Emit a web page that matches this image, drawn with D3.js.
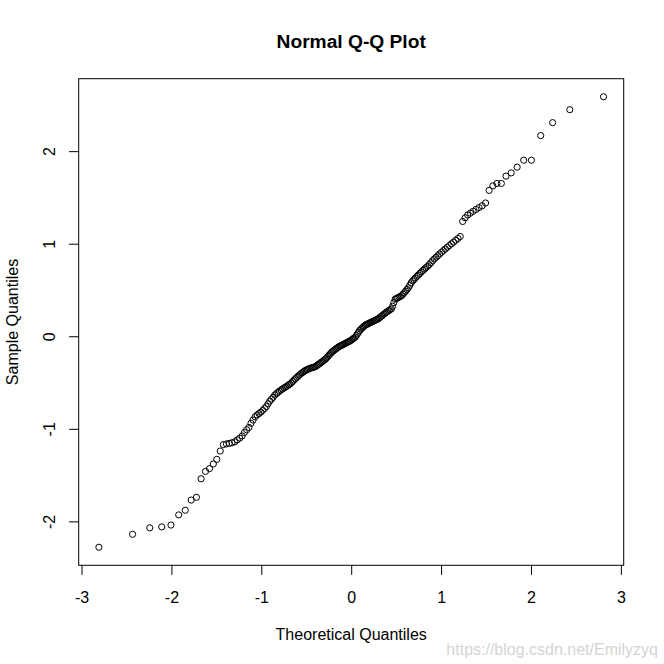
<!DOCTYPE html>
<html>
<head>
<meta charset="utf-8">
<script src="https://cdn.jsdelivr.net/npm/d3@7"></script>
<style>
  html, body { margin: 0; padding: 0; background: #ffffff; }
  svg { display: block; }
  text { font-family: "Liberation Sans", Arial, sans-serif; fill: #000; }
</style>
</head>
<body>
<script>
// ---------------- data ----------------
const chartTitle = "Normal Q-Q Plot";
const xAxisTitle = "Theoretical Quantiles";
const yAxisTitle = "Sample Quantiles";
const watermark = "https://blog.csdn.net/Emilyzyq";

const xTickValues = [-3, -2, -1, 0, 1, 2, 3];
const yTickValues = [-2, -1, 0, 1, 2];

// theoretical normal quantiles (n = 200)
const theoreticalQuantiles = [
  -2.807,-2.432,-2.241,-2.108,-2.005,-1.919,-1.846,-1.780,-1.722,-1.670,
  -1.621,-1.576,-1.534,-1.495,-1.457,-1.422,-1.388,-1.356,-1.326,-1.296,
  -1.268,-1.240,-1.213,-1.188,-1.163,-1.138,-1.115,-1.092,-1.069,-1.047,
  -1.026,-1.005,-0.984,-0.964,-0.944,-0.925,-0.906,-0.887,-0.868,-0.850,
  -0.832,-0.815,-0.798,-0.780,-0.764,-0.747,-0.731,-0.714,-0.698,-0.683,
  -0.667,-0.651,-0.636,-0.621,-0.606,-0.590,-0.576,-0.561,-0.546,-0.532,
  -0.517,-0.503,-0.489,-0.475,-0.461,-0.447,-0.433,-0.419,-0.405,-0.392,
  -0.378,-0.365,-0.351,-0.338,-0.325,-0.311,-0.298,-0.285,-0.272,-0.259,
  -0.246,-0.233,-0.220,-0.208,-0.195,-0.182,-0.169,-0.157,-0.144,-0.132,
  -0.119,-0.107,-0.094,-0.082,-0.069,-0.056,-0.044,-0.031,-0.019,-0.006,
   0.006, 0.019, 0.031, 0.044, 0.056, 0.069, 0.082, 0.094, 0.107, 0.119,
   0.132, 0.144, 0.157, 0.169, 0.182, 0.195, 0.208, 0.220, 0.233, 0.246,
   0.259, 0.272, 0.285, 0.298, 0.311, 0.325, 0.338, 0.351, 0.365, 0.378,
   0.392, 0.405, 0.419, 0.433, 0.447, 0.461, 0.475, 0.489, 0.503, 0.517,
   0.532, 0.546, 0.561, 0.576, 0.590, 0.606, 0.621, 0.636, 0.651, 0.667,
   0.683, 0.698, 0.714, 0.731, 0.747, 0.764, 0.780, 0.798, 0.815, 0.832,
   0.850, 0.868, 0.887, 0.906, 0.925, 0.944, 0.964, 0.984, 1.005, 1.026,
   1.047, 1.069, 1.092, 1.115, 1.138, 1.163, 1.188, 1.213, 1.240, 1.268,
   1.296, 1.326, 1.356, 1.388, 1.422, 1.457, 1.495, 1.534, 1.576, 1.621,
   1.670, 1.722, 1.780, 1.846, 1.919, 2.005, 2.108, 2.241, 2.432, 2.807
];

// sorted sample values
const sampleQuantiles = [
  -2.28,-2.14,-2.07,-2.06,-2.04,-1.93,-1.88,-1.77,-1.74,-1.54,
  -1.46,-1.43,-1.38,-1.33,-1.24,-1.17,-1.163,-1.157,-1.151,-1.14,
  -1.12,-1.10,-1.077,-1.04,-1.01,-0.985,-0.94,-0.905,-0.87,-0.85,
  -0.835,-0.82,-0.80,-0.78,-0.76,-0.73,-0.70,-0.68,-0.66,-0.635,
  -0.62,-0.607,-0.593,-0.58,-0.57,-0.558,-0.549,-0.538,-0.527,-0.518,
  -0.504,-0.489,-0.473,-0.459,-0.445,-0.431,-0.418,-0.406,-0.395,-0.385,
  -0.374,-0.366,-0.36,-0.353,-0.347,-0.343,-0.339,-0.335,-0.331,-0.324,
  -0.314,-0.305,-0.295,-0.285,-0.276,-0.266,-0.256,-0.245,-0.232,-0.218,
  -0.203,-0.19,-0.176,-0.165,-0.155,-0.146,-0.136,-0.127,-0.118,-0.11,
  -0.104,-0.098,-0.092,-0.086,-0.079,-0.072,-0.066,-0.06,-0.054,-0.046,
  -0.038,-0.028,-0.02,-0.01,0.006,0.025,0.044,0.062,0.076,0.087,
  0.099,0.11,0.12,0.126,0.132,0.139,0.145,0.15,0.157,0.163,
  0.169,0.175,0.181,0.187,0.196,0.208,0.218,0.228,0.24,0.25,
  0.26,0.269,0.278,0.287,0.296,0.324,0.364,0.40,0.408,0.415,
  0.423,0.43,0.439,0.454,0.47,0.488,0.506,0.524,0.55,0.577,
  0.599,0.613,0.63,0.647,0.662,0.679,0.695,0.711,0.726,0.741,
  0.756,0.774,0.795,0.816,0.836,0.853,0.871,0.889,0.908,0.926,
  0.943,0.961,0.98,0.999,1.017,1.037,1.057,1.078,1.24,1.28,
  1.31,1.33,1.35,1.37,1.39,1.41,1.44,1.576,1.625,1.651,
  1.651,1.73,1.765,1.827,1.902,1.902,2.168,2.308,2.448,2.588
];

// ---------------- layout ----------------
const W = 664, H = 664;
const box = { left: 78.7, right: 623.7, top: 78.7, bottom: 565.3 };

const svg = d3.select("body").append("svg")
  .attr("width", W).attr("height", H)
  .attr("viewBox", `0 0 ${W} ${H}`);

svg.append("rect").attr("width", W).attr("height", H).attr("fill", "#fff");

function padded(ext) {
  const d = (ext[1] - ext[0]) * 0.04;
  return [ext[0] - d, ext[1] + d];
}

const x = d3.scaleLinear()
  .domain(padded(d3.extent(theoreticalQuantiles)))
  .range([box.left, box.right]);
const y = d3.scaleLinear()
  .domain(padded(d3.extent(sampleQuantiles)))
  .range([box.bottom, box.top]);

const points = theoreticalQuantiles.map((t, i) => ({ t, s: sampleQuantiles[i] }));

// points
svg.append("g")
  .selectAll("circle")
  .data(points)
  .join("circle")
  .attr("cx", d => x(d.t))
  .attr("cy", d => y(d.s))
  .attr("r", 3.1)
  .attr("fill", "none")
  .attr("stroke", "#000")
  .attr("stroke-width", 1);

const fmt = d => String(d);

// x axis
const xAxis = d3.axisBottom(x).tickValues(xTickValues).tickSize(9.6).tickPadding(0).tickFormat(fmt);
const gx = svg.append("g").attr("transform", `translate(0,${box.bottom})`).call(xAxis);
gx.select(".domain").remove();
gx.selectAll(".tick line").attr("stroke", "#000").attr("stroke-width", 1);
gx.selectAll(".tick text")
  .attr("y", 38).attr("dy", null)
  .attr("font-size", 16)
  .attr("font-family", "Liberation Sans, Arial, sans-serif")
  .attr("fill", "#000");

// y axis
const yAxis = d3.axisLeft(y).tickValues(yTickValues).tickSize(9.6).tickPadding(0).tickFormat(fmt);
const gy = svg.append("g").attr("transform", `translate(${box.left},0)`).call(yAxis);
gy.select(".domain").remove();
gy.selectAll(".tick line").attr("stroke", "#000").attr("stroke-width", 1);
gy.selectAll(".tick text")
  .attr("x", null).attr("dy", null)
  .attr("text-anchor", "middle")
  .attr("transform", "translate(-23.5,0) rotate(-90)")
  .attr("font-size", 16)
  .attr("font-family", "Liberation Sans, Arial, sans-serif")
  .attr("fill", "#000");

// box
svg.append("rect")
  .attr("x", box.left).attr("y", box.top)
  .attr("width", box.right - box.left).attr("height", box.bottom - box.top)
  .attr("fill", "none").attr("stroke", "#000").attr("stroke-width", 1);

const cx = (box.left + box.right) / 2;
const cy = (box.top + box.bottom) / 2;

svg.append("text")
  .attr("x", cx).attr("y", 47.5)
  .attr("text-anchor", "middle")
  .attr("font-size", 19.2).attr("font-weight", "bold")
  .text(chartTitle);

svg.append("text")
  .attr("x", cx).attr("y", 639.5)
  .attr("text-anchor", "middle")
  .attr("font-size", 16)
  .text(xAxisTitle);

svg.append("text")
  .attr("transform", `translate(18,${cy}) rotate(-90)`)
  .attr("text-anchor", "middle")
  .attr("font-size", 16)
  .text(yAxisTitle);

svg.append("text")
  .attr("x", 658).attr("y", 655)
  .attr("text-anchor", "end")
  .attr("font-size", 16)
  .style("fill", "#d4d4d4")
  .text(watermark);
</script>
</body>
</html>
